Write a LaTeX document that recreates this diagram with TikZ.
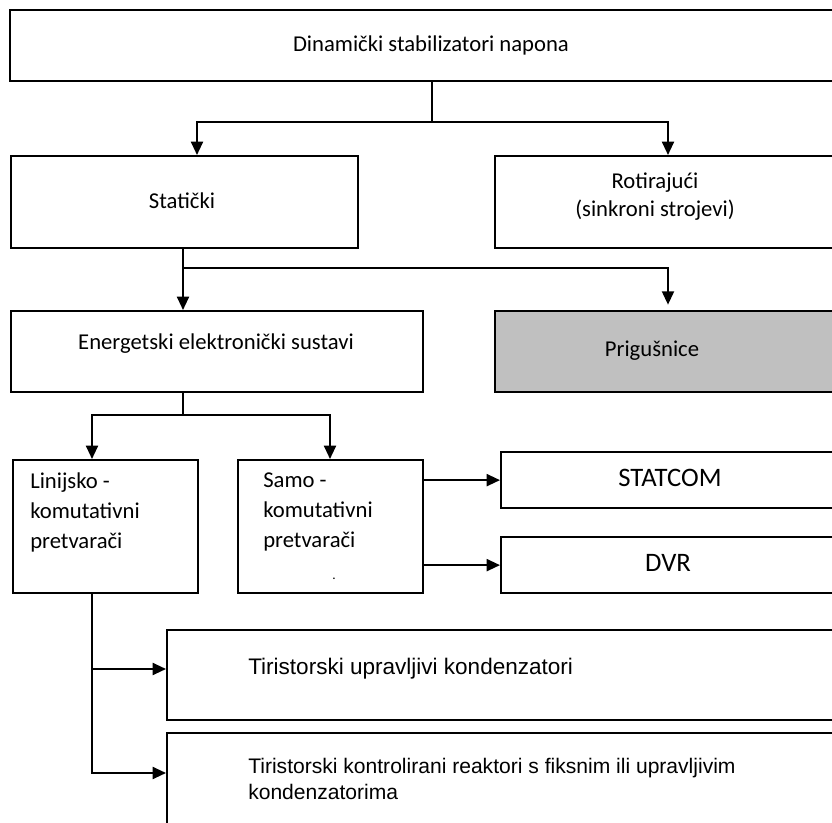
\documentclass[tikz,border=0pt]{standalone}
\usepackage{fontspec}
\setmainfont{Carlito}
\newfontfamily\arialfont{Liberation Sans}
\usetikzlibrary{arrows.meta}
\begin{document}
\begin{tikzpicture}[x=0.75pt,y=-0.75pt,
  box/.style={draw=black,line width=1.7pt,rectangle,inner sep=0pt,anchor=north west},
  conn/.style={draw=black,line width=1.5pt},
  arr/.style={conn,-{Triangle[length=10pt,width=9pt]}},
  lbl/.style={inner sep=0pt,text=black,font=\fontsize{17}{21}\selectfont},
  lbll/.style={lbl,align=left,anchor=west,font=\fontsize{17}{22.5}\selectfont},
  albl/.style={inner sep=0pt,text=black,align=left,anchor=west,font=\arialfont\fontsize{16}{19}\selectfont}]
\useasboundingbox (0,0) rectangle (832,823);
\clip (0,0) rectangle (832,823);
\fill[white] (0,0) rectangle (832,823);
% boxes
\node[box,minimum width=638.25pt,minimum height=53.25pt] (top) at (9,9) {};
\node[box,minimum width=260.25pt,minimum height=69pt] (stat) at (10,155) {};
\node[box,minimum width=274.5pt,minimum height=69pt] (rot) at (494,155) {};
\node[box,minimum width=309pt,minimum height=60.75pt] (ener) at (10,310) {};
\node[box,fill={rgb,255:red,192;green,192;blue,192},minimum width=274.5pt,minimum height=60.75pt] (prig) at (494,310) {};
\node[box,minimum width=138.75pt,minimum height=99.75pt] (lin) at (12,459) {};
\node[box,minimum width=138.75pt,minimum height=99.75pt] (samo) at (237,459) {};
\node[box,minimum width=270pt,minimum height=42pt] (statc) at (500,451) {};
\node[box,minimum width=270pt,minimum height=42pt] (dvr) at (500,536) {};
\node[box,minimum width=520.5pt,minimum height=67.5pt] (tuk) at (166,629) {};
\node[box,minimum width=520.5pt,minimum height=81pt] (tkr) at (166,732) {};
% texts
\node[lbl] (ttop) at (431,45) {Dinamički stabilizatori napona};
\node[lbl] (tstat) at (182,201) {Statički};
\node[lbl,align=center] (trot) at (655,197) {Rotirajući\\(sinkroni strojevi)};
\node[lbl] (tener) at (216,344) {Energetski elektronički sustavi};
\node[lbl] (tprig) at (652,351) {Prigušnice};
\node[lbll] (tlin) at (30,512) {Linijsko -\\komutativni\\pretvarači};
\node[lbll] (tsamo) at (263,512) {Samo -\\komutativni\\pretvarači};
\node[lbl,font=\fontsize{10}{12}\selectfont] (tdot) at (334,579) {.};
\node[lbl,font=\fontsize{20}{24}\selectfont] (tstatc) at (670,478) {STATCOM};
\node[lbl,font=\fontsize{20}{24}\selectfont] (tdvr) at (668,563) {DVR};
\node[albl,font=\arialfont\fontsize{16.9}{20}\selectfont] (ttuk) at (248,669) {Tiristorski upravljivi kondenzatori};
\node[albl,font=\arialfont\fontsize{15.8}{19.5}\selectfont] (ttkr) at (248,779) {Tiristorski kontrolirani reaktori s fiksnim ili upravljivim\\kondenzatorima};
% junction coordinates
\coordinate (a1) at (432,122);
\coordinate (cS) at (197,122);
\coordinate (cR) at (668,122);
\coordinate (b1) at (183,268);
\coordinate (cP) at (668,268);
\coordinate (c1) at (183,415);
\coordinate (cL) at (92,415);
\coordinate (cSa) at (330,415);
\coordinate (e1) at (92,669);
\coordinate (d1) at (92,773);
% connectors
\draw[conn] (top.south -| a1) -- (a1);
\draw[arr] (a1) -| (stat.north -| cS);
\draw[arr] (a1) -| (rot.north -| cR);
\draw[arr] (stat.south -| b1) -- (ener.north -| b1);
\draw[arr,shorten >=4pt] (b1) -| (prig.north -| cP);
\draw[conn] (ener.south -| c1) -- (c1);
\draw[arr] (c1) -| (lin.north -| cL);
\draw[arr] (c1) -| (samo.north -| cSa);
\draw[arr] (statc.west -| samo.east) -- (statc.west);
\draw[arr] (dvr.west -| samo.east) -- (dvr.west);
\draw[arr] (lin.south -| d1) |- (tkr.west |- d1);
\draw[arr] (e1) -- (tuk.west |- e1);
\end{tikzpicture}
\end{document}
